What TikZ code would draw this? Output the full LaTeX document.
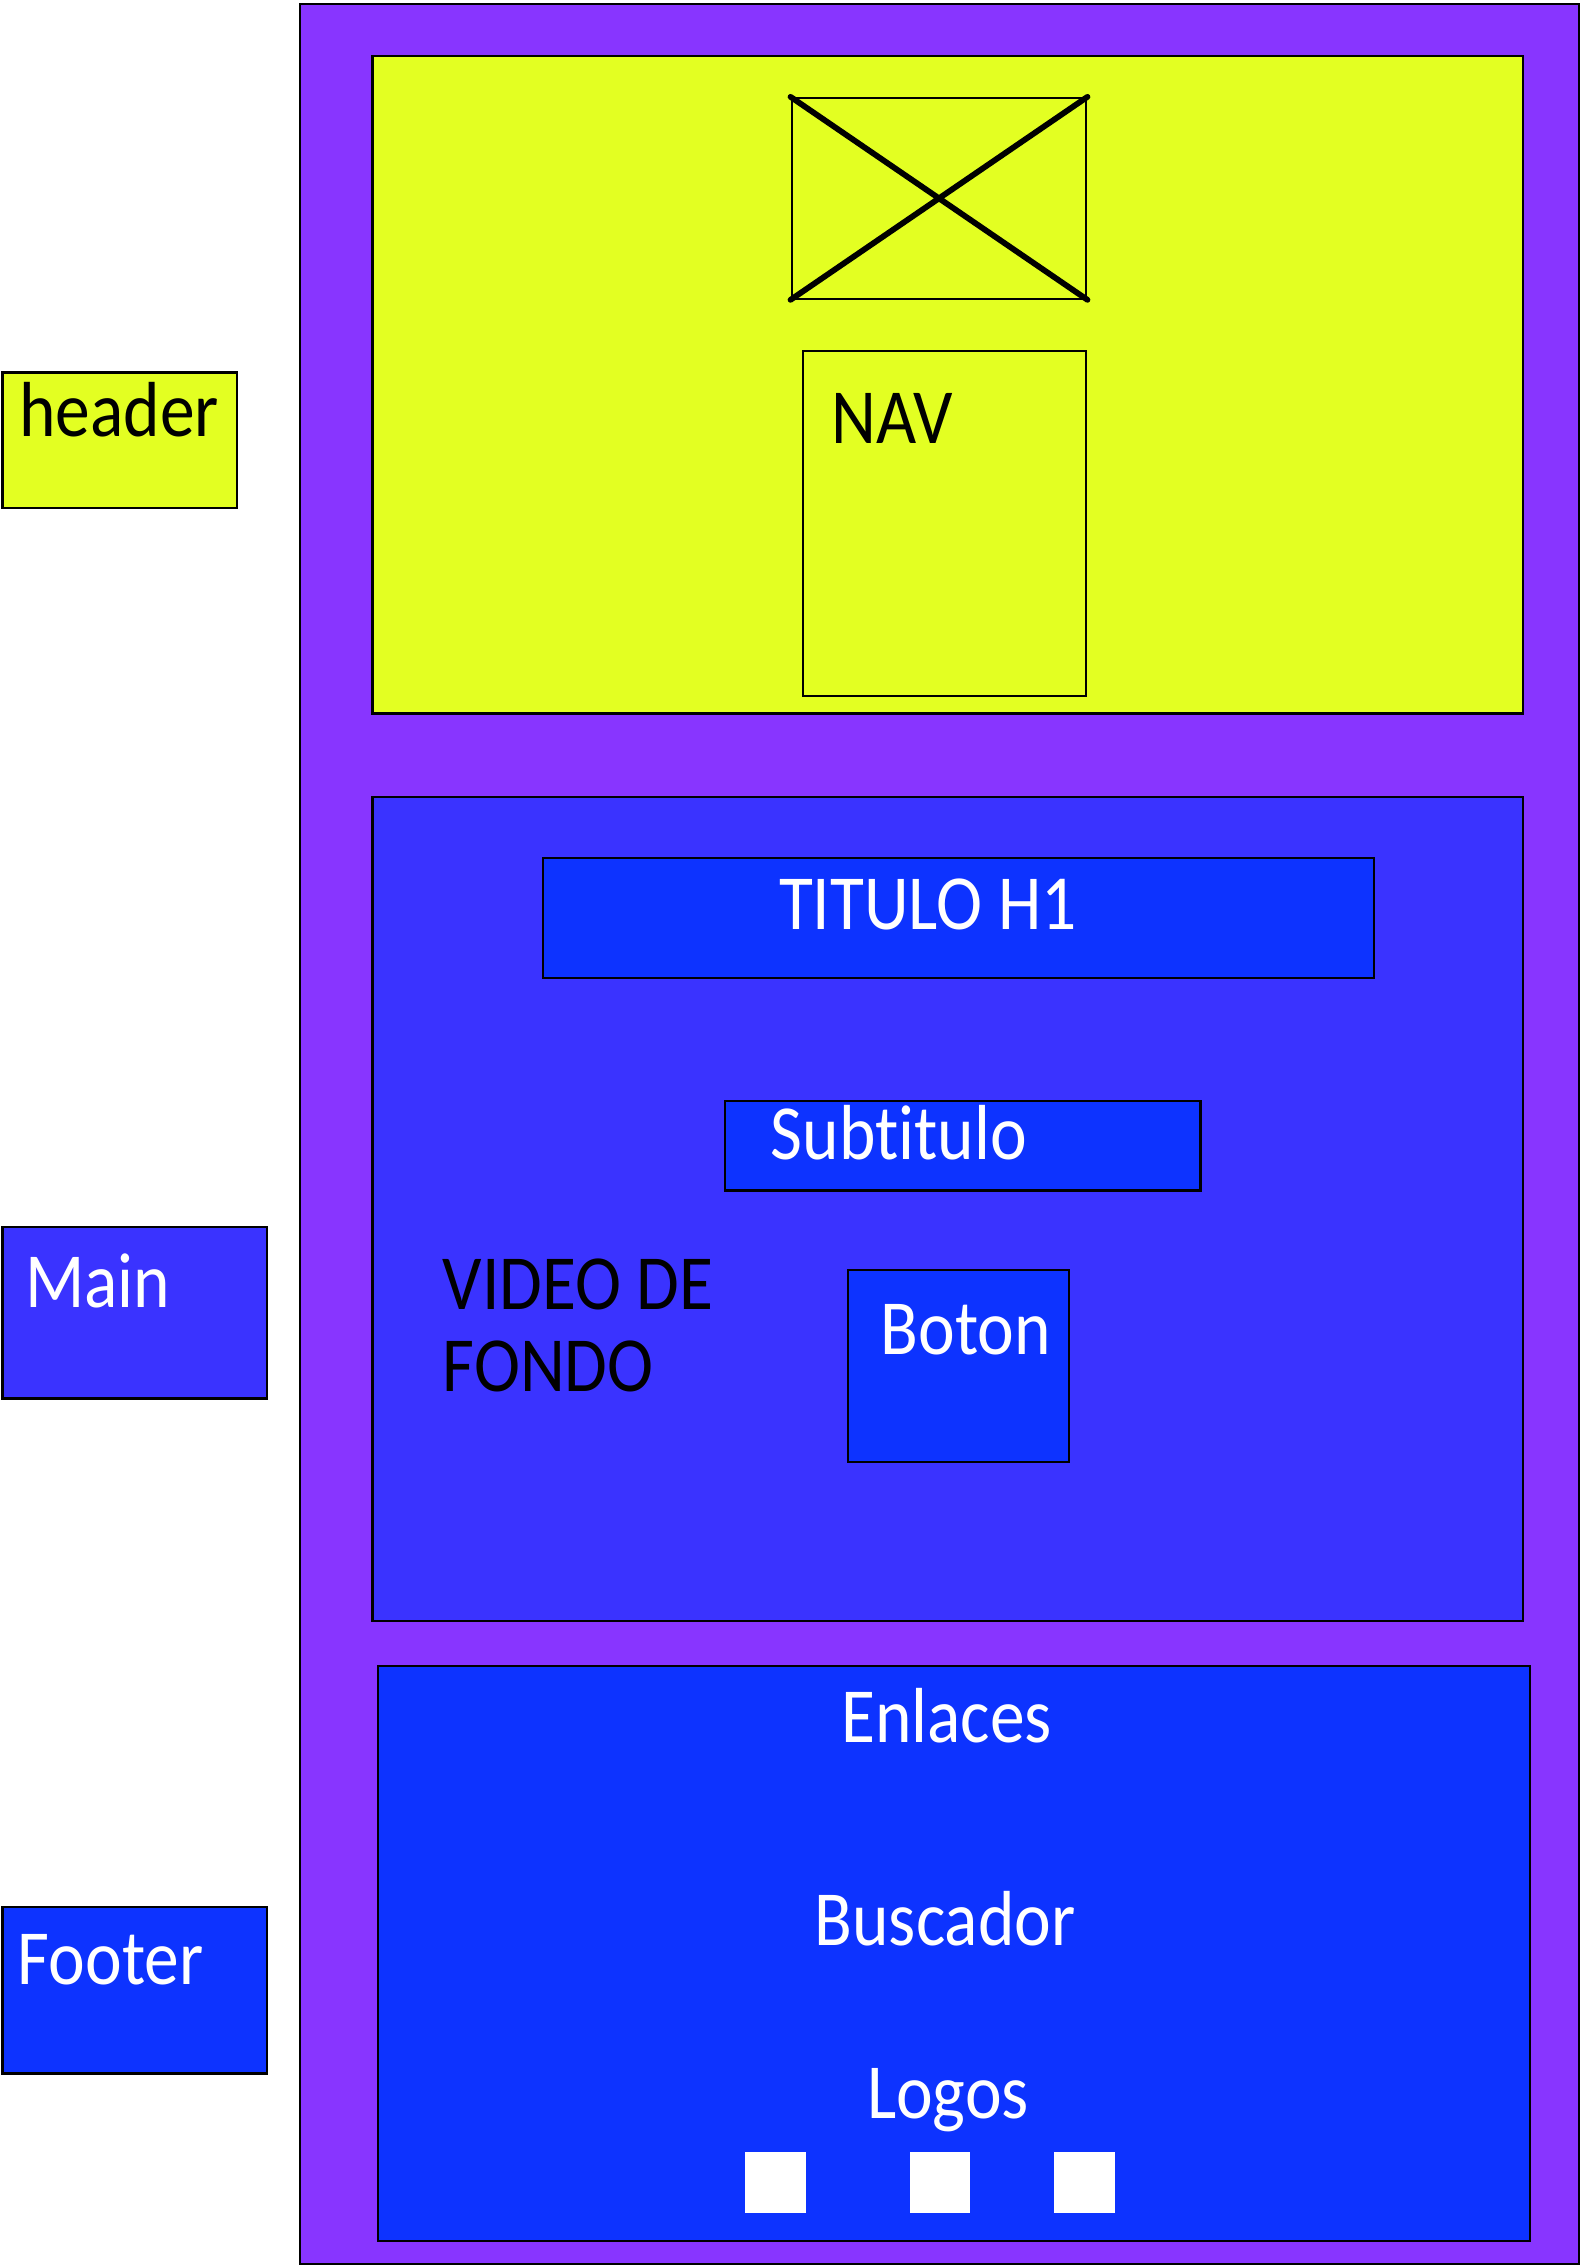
\documentclass[tikz,border=0pt]{standalone}
\usepackage{fontspec}
\setmainfont{Carlito}[FakeStretch=0.89, Ligatures={NoCommon}]
\usetikzlibrary{positioning}
\definecolor{pagecol}{HTML}{8835FF}
\definecolor{hdrcol}{HTML}{E3FF22}
\definecolor{maincol}{HTML}{3A33FF}
\definecolor{bluecol}{HTML}{0D33FF}
\tikzset{
  box/.style={draw, line width=0.75pt, anchor=north west, inner sep=0pt},
  txt/.style={inner sep=0pt, font=\fontsize{27}{32}\selectfont},
  wtxt/.style={txt, text=white}
}

\begin{document}
\begin{tikzpicture}[x=0.5pt, y=-0.5pt]
   \useasboundingbox (0,0) rectangle (1094,1568);
   % layout of the page
   \node[box, fill=pagecol, minimum width=442.5pt, minimum height=782pt] (page) at (207,2) {};
   \node[box, fill=hdrcol, minimum width=398pt, minimum height=227.5pt] (header) at (257,38) {};
   \node[box, minimum width=102pt, minimum height=69.5pt] (logo) at (547,67) {};
   \node[box, minimum width=98pt, minimum height=119.5pt] (nav) at (555,242) {};
   \node[box, fill=maincol, minimum width=398pt, minimum height=285pt] (main) at (257,551) {};
   \node[box, fill=bluecol, minimum width=287.5pt, minimum height=41.5pt] (titulo) at (375,593) {};
   \node[box, fill=bluecol, minimum width=164.5pt, minimum height=31pt] (subtitulo) at (501,761) {};
   \node[box, fill=bluecol, minimum width=76.5pt, minimum height=66.5pt] (boton) at (586,878) {};
   \node[box, fill=bluecol, minimum width=398.5pt, minimum height=199pt] (footer) at (261,1152) {};

   % legend
   \node[box, fill=hdrcol, minimum width=81pt, minimum height=47pt] (hdrlbl) at (1,257) {};
   \node[box, fill=maincol, minimum width=91.5pt, minimum height=59.5pt] (mainlbl) at (1,848) {};
   \node[box, fill=bluecol, minimum width=91.5pt, minimum height=57.5pt] (ftrlbl) at (1,1319) {};

   % image placeholder
   \draw[line width=2pt, line cap=round] (logo.north west) -- (logo.south east)
        (logo.south west) -- (logo.north east);

   % logos
   \foreach \x/\n in {515/a, 629/b, 729/c}
      \node[anchor=north west, fill=white, minimum size=21pt, inner sep=0pt] (sq\n) at (\x,1489) {};

   % texts
   \node[txt, anchor=base west] (hdrtxt) at (13,302) {header};
   \node[txt, anchor=base west] (navtxt) at (575,307) {NAV};
   \node[wtxt, anchor=base] (tittxt) at (642,643) {TITULO H1};
   \node[wtxt, anchor=base west] (subtxt) at (533,802) {Subtitulo};
   \node[txt, anchor=base west] (video) at (306,906) {VIDEO DE};
   \node[txt, anchor=base west] (fondo) at (306,963) {FONDO};
   \node[wtxt, anchor=base west] (bottxt) at (609,937) {Boton};
   \node[wtxt, anchor=base west] (maintxt) at (17,905) {Main};
   \node[wtxt, anchor=base] (enlaces) at (655,1206) {Enlaces};
   \node[wtxt, anchor=base] (buscador) at (654,1346) {Buscador};
   \node[wtxt, anchor=base] (logos) at (656,1466) {Logos};
   \node[wtxt, anchor=base west] (ftrtxt) at (12,1373) {Footer};
\end{tikzpicture}
\end{document}
